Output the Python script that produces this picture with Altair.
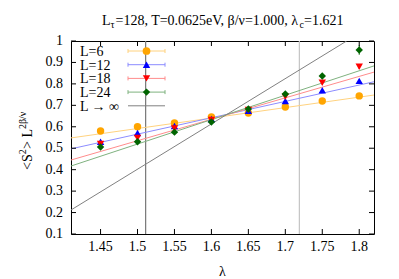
import altair as alt
import pandas as pd

# ---- data ----
lam = [1.45, 1.50, 1.55, 1.60, 1.65, 1.70, 1.75, 1.80]
L6 = [0.580, 0.600, 0.618, 0.646, 0.664, 0.692, 0.720, 0.744]
L12 = [0.530, 0.571, 0.604, 0.636, 0.675, 0.720, 0.770, 0.814]
L18 = [0.520, 0.548, 0.592, 0.632, 0.678, 0.740, 0.805, 0.880]
L24 = [0.506, 0.530, 0.575, 0.622, 0.683, 0.753, 0.837, 0.958]
E6 = [0.004, 0.004, 0.004, 0.004, 0.004, 0.004, 0.004, 0.004]
E12 = [0.005, 0.005, 0.005, 0.005, 0.005, 0.006, 0.006, 0.007]
E18 = [0.006, 0.006, 0.006, 0.006, 0.007, 0.010, 0.008, 0.010]
E24 = [0.007, 0.007, 0.007, 0.007, 0.008, 0.010, 0.012, 0.022]

fit_x = [1.41, 1.82]
fit6 = [0.548, 0.748]
fit12 = [0.497, 0.810]
fit18 = [0.445, 0.855]
fit24 = [0.417, 0.884]
inf_x = [1.41, 1.783]
inf_y = [0.212, 1.000]
vlines = [1.511, 1.719]
vline_colors = ["#777777", "#c4c4c4"]

series_names = ["L=6", "L=12", "L=18", "L=24"]
colors = ["#FFA500", "#0000FF", "#FF0000", "#006400"]
line_colors = ["#FFD27F", "#8C8CFF", "#FF8C8C", "#7FB27F"]
shapes = ["circle", "triangle-up", "triangle-down", "diamond"]
x_ticks = [1.45, 1.50, 1.55, 1.60, 1.65, 1.70, 1.75, 1.80]
x_labels = ["1.45", "1.5", "1.55", "1.6", "1.65", "1.7", "1.75", "1.8"]
y_ticks = [0.1, 0.2, 0.3, 0.4, 0.5, 0.6, 0.7, 0.8, 0.9, 1.0]
y_labels = ["0.1", "0.2", "0.3", "0.4", "0.5", "0.6", "0.7", "0.8", "0.9", "1"]

FONT = "Liberation Serif"
W, H = 303, 193

rows = []
for name, vals, errs, c, s in zip(series_names, [L6, L12, L18, L24], [E6, E12, E18, E24], colors, shapes):
    for x, v, e in zip(lam, vals, errs):
        rows.append(dict(series=name, lam=x, v=v, lo=v - e, hi=v + e, c=c, shp=s))
pts = pd.DataFrame(rows)

frows = []
for name, f, c in zip(series_names, [fit6, fit12, fit18, fit24], line_colors):
    for x, v in zip(fit_x, f):
        frows.append(dict(series=name, lam=x, v=v, c=c))
fits = pd.DataFrame(frows)

xs = alt.Scale(domain=[1.41, 1.82], nice=False, zero=False)
ys = alt.Scale(domain=[0.1, 1.0], nice=False, zero=False)


def X(f):
    return alt.X(f, scale=xs, axis=None)


def Y(f):
    return alt.Y(f, scale=ys, axis=None)


fit_layer = alt.Chart(fits).mark_line(strokeWidth=1, clip=True).encode(
    x=X("lam:Q"), y=Y("v:Q"),
    color=alt.Color("c:N", scale=None),
    detail="series:N",
)

inf_layer = alt.Chart(pd.DataFrame({"lam": inf_x, "v": inf_y})).mark_line(
    color="#808080", strokeWidth=1, clip=True
).encode(x=X("lam:Q"), y=Y("v:Q"))

vl_layer = alt.Chart(pd.DataFrame({"lam": vlines, "c": vline_colors})).mark_rule(strokeWidth=1.2).encode(
    x=X("lam:Q"), color=alt.Color("c:N", scale=None)
)

err_layer = alt.Chart(pts).mark_rule(strokeWidth=1).encode(
    x=X("lam:Q"), y=Y("lo:Q"), y2="hi:Q",
    color=alt.Color("c:N", scale=None),
)

pt_layer = alt.Chart(pts).mark_point(filled=True, size=55, opacity=1).encode(
    x=X("lam:Q"), y=Y("v:Q"),
    color=alt.Color("c:N", scale=None),
    shape=alt.Shape("shp:N", scale=None),
)

# inward ticks on all four sides + tick labels
xt = pd.DataFrame({"t": x_ticks, "s": x_labels})
yt = pd.DataFrame({"t": y_ticks, "s": y_labels})
tick_kw = dict(color="black", strokeWidth=1)
tb = alt.Chart(xt).mark_rule(**tick_kw).encode(x=X("t:Q"), y=alt.value(H), y2=alt.value(H - 5))
tt = alt.Chart(xt).mark_rule(**tick_kw).encode(x=X("t:Q"), y=alt.value(0), y2=alt.value(5))
tl = alt.Chart(yt).mark_rule(**tick_kw).encode(y=Y("t:Q"), x=alt.value(0), x2=alt.value(5))
tr = alt.Chart(yt).mark_rule(**tick_kw).encode(y=Y("t:Q"), x=alt.value(W), x2=alt.value(W - 5))
xlab = alt.Chart(xt).mark_text(font=FONT, fontSize=14, color="black", align="center",
                               baseline="alphabetic").encode(x=X("t:Q"), y=alt.value(H + 17), text="s:N")
ylab = alt.Chart(yt).mark_text(font=FONT, fontSize=14, color="black", align="right",
                               baseline="middle").encode(y=Y("t:Q"), x=alt.value(-8), text="s:N")


def txt(s, x, y, size=14, angle=0, align="left"):
    return alt.Chart(pd.DataFrame({"a": [0]})).mark_text(
        text=s, font=FONT, fontSize=size, color="black", align=align,
        baseline="alphabetic", angle=angle
    ).encode(x=alt.value(x), y=alt.value(y))


# title with subscripts
title_layers = [
    txt("L", 31, -16),
    txt("τ", 39.6, -13, size=10),
    txt("=128, T=0.0625eV, β/ν=1.000, λ", 44.5, -16),
    txt("c", 228.5, -13, size=10),
    txt("=1.621", 233, -16),
]

# y title (rotated) with superscripts
ytitle_layers = [
    txt("<S", -39, 129, angle=270),
    txt("2", -45, 113.3, size=10, angle=270),
    txt("> L", -39, 108, angle=270),
    txt("2β/ν", -45, 88, size=10, angle=270),
]

xtitle = txt("λ", W / 2, 235, align="center")

# manual gnuplot-style legend
leg_layers = []
leg_y = [10, 23.7, 37.4, 51.1, 64.8]
for i, name in enumerate(series_names):
    yc = leg_y[i]
    leg_layers.append(txt(name, 9, yc + 5))
    leg_layers.append(alt.Chart(pd.DataFrame({"a": [0]})).mark_rule(color=line_colors[i], strokeWidth=1).encode(
        x=alt.value(57), x2=alt.value(94), y=alt.value(yc)))
    for xe in (57, 94):
        leg_layers.append(alt.Chart(pd.DataFrame({"a": [0]})).mark_rule(color=line_colors[i], strokeWidth=1).encode(
            x=alt.value(xe), y=alt.value(yc - 2), y2=alt.value(yc + 2)))
    leg_layers.append(alt.Chart(pd.DataFrame({"a": [0]})).mark_point(
        filled=True, size=60 if i == 0 else 55, shape=shapes[i], color=colors[i], opacity=1
    ).encode(x=alt.value(75.5), y=alt.value(yc)))
leg_layers.append(txt("L → ∞", 9, leg_y[4] + 5))
leg_layers.append(alt.Chart(pd.DataFrame({"a": [0]})).mark_rule(color="#808080", strokeWidth=1).encode(
    x=alt.value(57), x2=alt.value(94), y=alt.value(leg_y[4])))

chart = alt.layer(
    vl_layer, fit_layer, inf_layer, err_layer, pt_layer, tb, tt, tl, tr, xlab, ylab,
    *title_layers, *ytitle_layers, xtitle, *leg_layers
).properties(
    width=W, height=H,
    autosize=alt.AutoSizeParams(type="none"),
    padding={"left": 63, "top": 33, "right": 17, "bottom": 44},
).configure_view(
    stroke="black", strokeWidth=1
)

chart.save("out.html", embed_options={"renderer": "svg", "actions": False})
